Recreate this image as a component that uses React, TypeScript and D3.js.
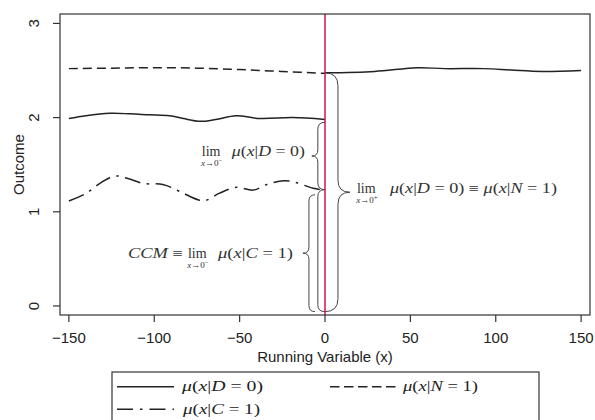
import React from 'react';
import * as d3 from 'd3';

const W = 595;
const H = 420;

const xTicks = [-150, -100, -50, 0, 50, 100, 150];
const yTicks = [0, 1, 2, 3];

// mu(x|D=0), left of the cutoff
const xD0Left = [-150, -140, -126, -114, -103, -91, -83, -73, -64, -52, -38, -19, 0];
const yD0Left = [1.99, 2.02, 2.045, 2.04, 2.03, 2.02, 1.99, 1.96, 1.98, 2.02, 1.99, 2.0, 1.98];

// mu(x|D=0), right of the cutoff
const xD0Right = [0, 29, 54, 70, 93, 109, 127, 150];
const yD0Right = [2.475, 2.49, 2.53, 2.52, 2.52, 2.505, 2.49, 2.5];

// mu(x|N=1), left of the cutoff
const xN1 = [-150, -125, -100, -75, -50, -25, 0];
const yN1 = [2.52, 2.525, 2.53, 2.525, 2.51, 2.49, 2.47];

// mu(x|C=1), left of the cutoff
const xC1 = [-150, -140, -132, -123, -116, -106, -95, -85, -74, -70, -62, -52, -42, -34, -24, -17, -7, 0];
const yC1 = [1.115, 1.195, 1.3, 1.38, 1.355, 1.3, 1.29, 1.215, 1.125, 1.12, 1.195, 1.26, 1.23, 1.29, 1.33, 1.31, 1.25, 1.23];

// braces: stem x (data), y from / to (data)
const braceStemX = [-4.2, -4.2, -9.4, 7.6];
const braceY0 = [1.95, 1.235, 1.18, 2.475];
const braceY1 = [1.235, -0.06, -0.06, -0.06];

const SERIF = "'Liberation Serif', 'DejaVu Serif', serif";
const SANS = "'Liberation Sans', Arial, sans-serif";

type Part = { t: string; i?: boolean };

const muD0: Part[] = [{ t: 'μ', i: true }, { t: '(' }, { t: 'x', i: true }, { t: '|' }, { t: 'D', i: true }, { t: ' = 0)' }];
const muN1: Part[] = [{ t: 'μ', i: true }, { t: '(' }, { t: 'x', i: true }, { t: '|' }, { t: 'N', i: true }, { t: ' = 1)' }];
const muC1: Part[] = [{ t: 'μ', i: true }, { t: '(' }, { t: 'x', i: true }, { t: '|' }, { t: 'C', i: true }, { t: ' = 1)' }];

function MathText(props: { x: number; y: number; parts: Part[]; size: number; len?: number; anchor?: string; fill?: string }) {
  const { x, y, parts, size, len, anchor, fill } = props;
  return (
    <text
      x={x}
      y={y}
      fontFamily={SERIF}
      fontSize={size}
      textAnchor={anchor || 'start'}
      fill={fill || '#222'}
      textLength={len}
      lengthAdjust={len ? 'spacingAndGlyphs' : undefined}
      style={{ whiteSpace: 'pre' }}
    >
      {parts.map((p, k) => (
        <tspan key={k} fontStyle={p.i ? 'italic' : 'normal'}>
          {p.t}
        </tspan>
      ))}
    </text>
  );
}

function Lim(props: { x: number; y: number; sign: string }) {
  const { x, y, sign } = props;
  return (
    <g fill="#333" fontFamily={SERIF}>
      <text x={x} y={y} fontSize={14}>lim</text>
      <text x={x + 10} y={y + 10.5} fontSize={9} textAnchor="middle">
        <tspan fontStyle="italic">x</tspan>
        <tspan>→0</tspan>
        <tspan dy={-3} fontSize={7}>{sign}</tspan>
      </text>
    </g>
  );
}

function bracePath(xs: number, y0: number, y1: number, tipDir: number, we: number, wt: number, tip: boolean) {
  // ends curl opposite to tip direction
  const xe = xs - tipDir * we;
  const r0 = Math.min(we, Math.abs(y1 - y0) / 4);
  const ym = (y0 + y1) / 2;
  const xt = xs + tipDir * wt;
  if (!tip) {
    return `M${xe},${y0} Q${xs},${y0} ${xs},${y0 + r0} L${xs},${y1 - r0} Q${xs},${y1} ${xe},${y1}`;
  }
  const rm = Math.min(wt, Math.abs(y1 - y0) / 4);
  return `M${xe},${y0} Q${xs},${y0} ${xs},${y0 + r0} L${xs},${ym - rm} Q${xs},${ym} ${xt},${ym} Q${xs},${ym} ${xs},${ym + rm} L${xs},${y1 - r0} Q${xs},${y1} ${xe},${y1}`;
}

export default function App() {
  const x = d3.scaleLinear().domain([-155.2, 155.2]).range([60, 590]);
  const y = d3.scaleLinear().domain([-0.096, 3.1]).range([315, 14]);
  const left = 60, right = 590, top = 14, bottom = 315;

  const line = d3
    .line<[number, number]>()
    .x((d) => x(d[0]))
    .y((d) => y(d[1]))
    .curve(d3.curveCatmullRom.alpha(0.5));

  const zip = (a: number[], b: number[]) => a.map((v, k) => [v, b[k]] as [number, number]);

  const braceStyles = [
    { tipDir: -1, we: 7, wt: 6, tip: true },
    { tipDir: -1, we: 7, wt: 6, tip: false },
    { tipDir: -1, we: 6, wt: 6, tip: true },
    { tipDir: 1, we: 13, wt: 12, tip: true },
  ];

  const braces = braceStemX.map((bx, k) => {
    const s = braceStyles[k];
    return bracePath(x(bx), y(braceY0[k]), y(braceY1[k]), s.tipDir, s.we, s.wt, s.tip);
  });

  const b1mid = (y(braceY0[0]) + y(braceY1[0])) / 2;
  const b1tip = x(braceStemX[0]) - 6;
  const b3mid = (y(braceY0[2]) + y(braceY1[2])) / 2;
  const b3tip = x(braceStemX[2]) - 6;
  const b4mid = (y(braceY0[3]) + y(braceY1[3])) / 2;
  const b4tip = x(braceStemX[3]) + 12;

  return (
    <svg width={W} height={H} style={{ position: 'absolute', left: 0, top: 0, background: '#fff' }}>
      <rect x={0} y={0} width={W} height={H} fill="#fff" />
      {/* data lines */}
      <g fill="none" stroke="#222" strokeWidth={1.5}>
        <path d={line(zip(xD0Left, yD0Left)) || ''} />
        <path d={line(zip(xD0Right, yD0Right)) || ''} />
        <path d={line(zip(xN1, yN1)) || ''} strokeDasharray="9,5" />
        <path d={line(zip(xC1, yC1)) || ''} strokeDasharray="16,6.5,2.5,6.5" />
      </g>

      {/* braces */}
      <g fill="none" stroke="#444" strokeWidth={1}>
        {braces.map((d, k) => (
          <path key={k} d={d} />
        ))}
      </g>

      {/* cutoff */}
      <line x1={x(0)} x2={x(0)} y1={top} y2={bottom} stroke="#d0154a" strokeWidth={1.5} />

      {/* box */}
      <rect x={left} y={top} width={right - left} height={bottom - top} fill="none" stroke="#333" strokeWidth={1.2} />

      {/* axes */}
      <g stroke="#333" strokeWidth={1.2}>
        {xTicks.map((t) => (
          <line key={t} x1={x(t)} x2={x(t)} y1={bottom} y2={bottom + 7} />
        ))}
        {yTicks.map((t) => (
          <line key={t} x1={left - 7} x2={left} y1={y(t)} y2={y(t)} />
        ))}
      </g>
      <g fontFamily={SANS} fontSize={15} fill="#222" textAnchor="middle">
        {xTicks.map((t) => (
          <text key={t} x={x(t)} y={343}>
            {t < 0 ? '\u2212' + Math.abs(t) : String(t)}
          </text>
        ))}
        {yTicks.map((t) => (
          <text key={t} transform={`translate(39,${y(t)}) rotate(-90)`}>
            {String(t)}
          </text>
        ))}
        <text x={(left + right) / 2} y={362}>Running Variable (x)</text>
        <text transform={`translate(24,${(top + bottom) / 2}) rotate(-90)`}>Outcome</text>
      </g>

      {/* annotations */}
      <Lim x={b1tip - 110} y={b1mid} sign={'\u2212'} />
      <MathText x={b1tip - 7} y={b1mid} parts={muD0} size={14} len={73} anchor="end" fill="#333" />

      <MathText x={b3tip - 175} y={b3mid + 4.5} parts={[{ t: 'CCM', i: true }, { t: ' ≡' }]} size={14} len={55} fill="#333" />
      <Lim x={b3tip - 115} y={b3mid + 4.5} sign={'\u2212'} />
      <MathText x={b3tip - 10} y={b3mid + 4.5} parts={muC1} size={14} len={75} anchor="end" fill="#333" />

      <Lim x={b4tip + 7} y={b4mid + 0.5} sign="+" />
      <MathText
        x={b4tip + 40}
        y={b4mid + 0.5}
        parts={[...muD0, { t: ' ≡ ' }, ...muN1]}
        size={14}
        len={167}
        fill="#333"
      />

      {/* legend */}
      <rect x={112} y={372} width={427} height={60} fill="#fff" stroke="#333" strokeWidth={1.2} />
      <g stroke="#222" strokeWidth={1.5}>
        <line x1={117} x2={174} y1={386.7} y2={386.7} />
        <line x1={330} x2={396} y1={386.7} y2={386.7} strokeDasharray="9.5,4.5" />
        <line x1={117} x2={174} y1={409.3} y2={409.3} strokeDasharray="16,7,2.5,7" />
      </g>
      <MathText x={182} y={391} parts={muD0} size={15} len={81} />
      <MathText x={403} y={391} parts={muN1} size={15} len={75} />
      <MathText x={183} y={413.5} parts={muC1} size={15} len={77} />
    </svg>
  );
}
